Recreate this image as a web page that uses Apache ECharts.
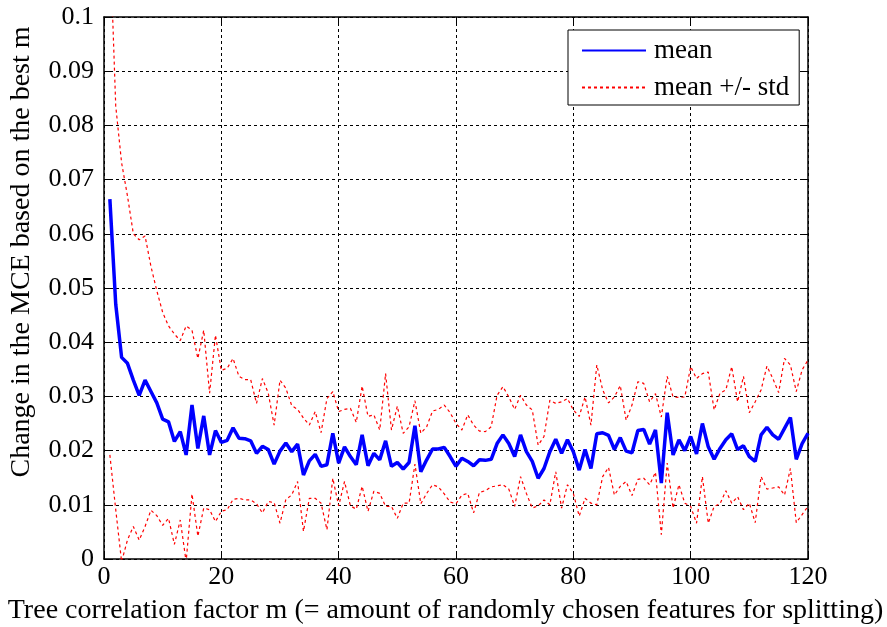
<!DOCTYPE html>
<html>
<head>
<meta charset="utf-8">
<script src="https://cdn.jsdelivr.net/npm/echarts@6/dist/echarts.min.js"></script>
<style>
  html, body { margin: 0; padding: 0; background: #fff; }
  #chart { width: 887px; height: 627px; }
</style>
</head>
<body>
<div id="chart"></div>
<script>
// Random forest: change in misclassification error vs. tree correlation factor m
const seriesNames = ['mean', 'mean +/- std'];
const xTicks = [0, 20, 40, 60, 80, 100, 120];
const yTicks = [0, 0.01, 0.02, 0.03, 0.04, 0.05, 0.06, 0.07, 0.08, 0.09, 0.1];

// m = 1 .. 120
const mValues = [];
for (let i = 1; i <= 120; i++) mValues.push(i);

const meanValues = [
  0.0664, 0.0470, 0.0372, 0.0361, 0.0330, 0.0302, 0.0330, 0.0309, 0.0288, 0.0258,
  0.0253, 0.0217, 0.0235, 0.0192, 0.0284, 0.0204, 0.0264, 0.0192, 0.0237, 0.0215,
  0.0219, 0.0242, 0.0223, 0.0222, 0.0218, 0.0195, 0.0208, 0.0202, 0.0175, 0.0199,
  0.0214, 0.0198, 0.0212, 0.0155, 0.0181, 0.0193, 0.0171, 0.0174, 0.0232, 0.0177,
  0.0207, 0.0189, 0.0174, 0.0229, 0.0172, 0.0195, 0.0183, 0.0218, 0.0171, 0.0178,
  0.0166, 0.0178, 0.0246, 0.0161, 0.0183, 0.0203, 0.0203, 0.0206, 0.0189, 0.0171,
  0.0186, 0.0180, 0.0172, 0.0183, 0.0182, 0.0184, 0.0213, 0.0229, 0.0213, 0.0189,
  0.0229, 0.0198, 0.0180, 0.0149, 0.0167, 0.0198, 0.0221, 0.0195, 0.0220, 0.0198,
  0.0164, 0.0202, 0.0167, 0.0231, 0.0233, 0.0228, 0.0202, 0.0224, 0.0199, 0.0196,
  0.0237, 0.0239, 0.0212, 0.0238, 0.0140, 0.0270, 0.0192, 0.0220, 0.0200, 0.0226,
  0.0194, 0.0250, 0.0207, 0.0184, 0.0204, 0.0220, 0.0231, 0.0202, 0.0209, 0.0189,
  0.0180, 0.0229, 0.0243, 0.0229, 0.0221, 0.0241, 0.0261, 0.0184, 0.0213, 0.0232
];

const upperValues = [
  0.1150, 0.0836, 0.0731, 0.0670, 0.0600, 0.0589, 0.0596, 0.0540, 0.0495, 0.0455,
  0.0430, 0.0415, 0.0403, 0.0430, 0.0422, 0.0370, 0.0422, 0.0306, 0.0413, 0.0348,
  0.0352, 0.0370, 0.0337, 0.0331, 0.0331, 0.0287, 0.0333, 0.0306, 0.0247, 0.0330,
  0.0315, 0.0283, 0.0276, 0.0260, 0.0247, 0.0272, 0.0233, 0.0296, 0.0309, 0.0272,
  0.0276, 0.0278, 0.0252, 0.0319, 0.0263, 0.0266, 0.0238, 0.0342, 0.0238, 0.0282,
  0.0232, 0.0244, 0.0292, 0.0232, 0.0244, 0.0273, 0.0276, 0.0284, 0.0270, 0.0250,
  0.0238, 0.0266, 0.0247, 0.0236, 0.0235, 0.0244, 0.0302, 0.0318, 0.0299, 0.0276,
  0.0302, 0.0284, 0.0275, 0.0210, 0.0226, 0.0293, 0.0287, 0.0290, 0.0296, 0.0275,
  0.0263, 0.0299, 0.0247, 0.0358, 0.0312, 0.0288, 0.0299, 0.0320, 0.0256, 0.0284,
  0.0327, 0.0324, 0.0290, 0.0305, 0.0262, 0.0337, 0.0299, 0.0298, 0.0299, 0.0355,
  0.0333, 0.0342, 0.0345, 0.0275, 0.0306, 0.0312, 0.0355, 0.0290, 0.0337, 0.0270,
  0.0290, 0.0312, 0.0356, 0.0333, 0.0307, 0.0370, 0.0358, 0.0309, 0.0349, 0.0367
];

const lowerValues = [
  0.0192, 0.0091, -0.0005, 0.0035, 0.0060, 0.0035, 0.0060, 0.0090, 0.0080, 0.0062,
  0.0075, 0.0027, 0.0072, -0.0005, 0.0120, 0.0042, 0.0094, 0.0091, 0.0069, 0.0088,
  0.0091, 0.0110, 0.0112, 0.0109, 0.0109, 0.0102, 0.0085, 0.0106, 0.0104, 0.0066,
  0.0110, 0.0118, 0.0143, 0.0051, 0.0112, 0.0112, 0.0103, 0.0054, 0.0149, 0.0098,
  0.0143, 0.0098, 0.0092, 0.0134, 0.0088, 0.0125, 0.0121, 0.0097, 0.0097, 0.0075,
  0.0103, 0.0103, 0.0175, 0.0102, 0.0121, 0.0137, 0.0133, 0.0120, 0.0105, 0.0102,
  0.0118, 0.0121, 0.0085, 0.0123, 0.0126, 0.0133, 0.0135, 0.0137, 0.0129, 0.0097,
  0.0152, 0.0121, 0.0094, 0.0098, 0.0109, 0.0100, 0.0161, 0.0094, 0.0137, 0.0121,
  0.0079, 0.0112, 0.0103, 0.0100, 0.0152, 0.0169, 0.0118, 0.0134, 0.0143, 0.0117,
  0.0147, 0.0149, 0.0137, 0.0160, 0.0045, 0.0177, 0.0094, 0.0137, 0.0103, 0.0097,
  0.0066, 0.0152, 0.0066, 0.0097, 0.0102, 0.0126, 0.0103, 0.0115, 0.0091, 0.0103,
  0.0067, 0.0152, 0.0129, 0.0131, 0.0133, 0.0118, 0.0167, 0.0067, 0.0082, 0.0097
];

const pairs = (ys) => mValues.map((m, i) => [m, ys[i]]);

const FONT = "'Liberation Serif', 'Times New Roman', serif";
const TICK_FS = 26;
const TITLE_FS = 28;
const LEGEND_FS = 27;

const gridLine = { show: true, lineStyle: { color: '#000', width: 1, type: [3, 3] } };
const axisBox = { show: true, onZero: false, lineStyle: { color: '#000', width: 1.5 } };
const inTicks = { show: true, inside: true, length: 7, lineStyle: { color: '#000', width: 1 } };

const chart = echarts.init(document.getElementById('chart'), null, { renderer: 'canvas' });
chart.setOption({
  backgroundColor: '#fff',
  animation: false,
  textStyle: { fontFamily: FONT },
  grid: { left: 104, top: 17, width: 704, height: 542, containLabel: false, outerBoundsMode: 'none' },
  legend: {
    orient: 'vertical',
    left: 568, top: 30,
    data: seriesNames,
    itemWidth: 64, itemHeight: 12, itemGap: 10,
    padding: [7, 10, 4, 13],
    backgroundColor: '#fff',
    borderColor: '#000', borderWidth: 1,
    itemStyle: { color: 'rgba(0,0,0,0)', borderWidth: 0, opacity: 0 },
    textStyle: { fontFamily: FONT, fontSize: LEGEND_FS, color: '#000', padding: [0, 0, 0, 3] }
  },
  xAxis: [{
    type: 'value', min: xTicks[0], max: xTicks[xTicks.length - 1], interval: 20,
    name: 'Tree correlation factor m (= amount of randomly chosen features for splitting)',
    nameLocation: 'middle', nameGap: 38,
    nameTextStyle: { fontFamily: FONT, fontSize: TITLE_FS, color: '#000', padding: [0, 21, 0, 0] },
    axisLine: axisBox, axisTick: inTicks, splitLine: gridLine,
    axisLabel: { fontFamily: FONT, fontSize: TICK_FS, color: '#000', margin: 5 }
  }, {
    type: 'value', position: 'top', min: xTicks[0], max: xTicks[xTicks.length - 1], interval: 20,
    axisLine: axisBox, axisTick: inTicks, splitLine: { show: false }, axisLabel: { show: false }
  }],
  yAxis: [{
    type: 'value', min: yTicks[0], max: yTicks[yTicks.length - 1], interval: 0.01,
    name: 'Change in the MCE based on the best m',
    nameLocation: 'middle', nameGap: 68,
    nameTextStyle: { fontFamily: FONT, fontSize: TITLE_FS, color: '#000', padding: [0, 0, 0, 72] },
    axisLine: axisBox, axisTick: inTicks, splitLine: gridLine,
    axisLabel: { fontFamily: FONT, fontSize: TICK_FS, color: '#000', margin: 10 }
  }, {
    type: 'value', position: 'right', min: yTicks[0], max: yTicks[yTicks.length - 1], interval: 0.01,
    axisLine: axisBox, axisTick: inTicks, splitLine: { show: false }, axisLabel: { show: false }
  }],
  series: [
    {
      name: seriesNames[0], type: 'line', data: pairs(meanValues),
      showSymbol: false, symbol: 'none', clip: true, z: 3,
      lineStyle: { color: '#0000ff', width: 3.5 }, itemStyle: { color: '#0000ff' }
    },
    {
      name: seriesNames[1], type: 'line', data: pairs(upperValues),
      showSymbol: false, symbol: 'none', clip: true, z: 2,
      lineStyle: { color: '#ff0000', width: 1.2, type: [3, 3] }, itemStyle: { color: '#ff0000' }
    },
    {
      name: seriesNames[1], type: 'line', data: pairs(lowerValues),
      showSymbol: false, symbol: 'none', clip: true, z: 2,
      lineStyle: { color: '#ff0000', width: 1.2, type: [3, 3] }, itemStyle: { color: '#ff0000' }
    }
  ]
});
</script>
</body>
</html>
